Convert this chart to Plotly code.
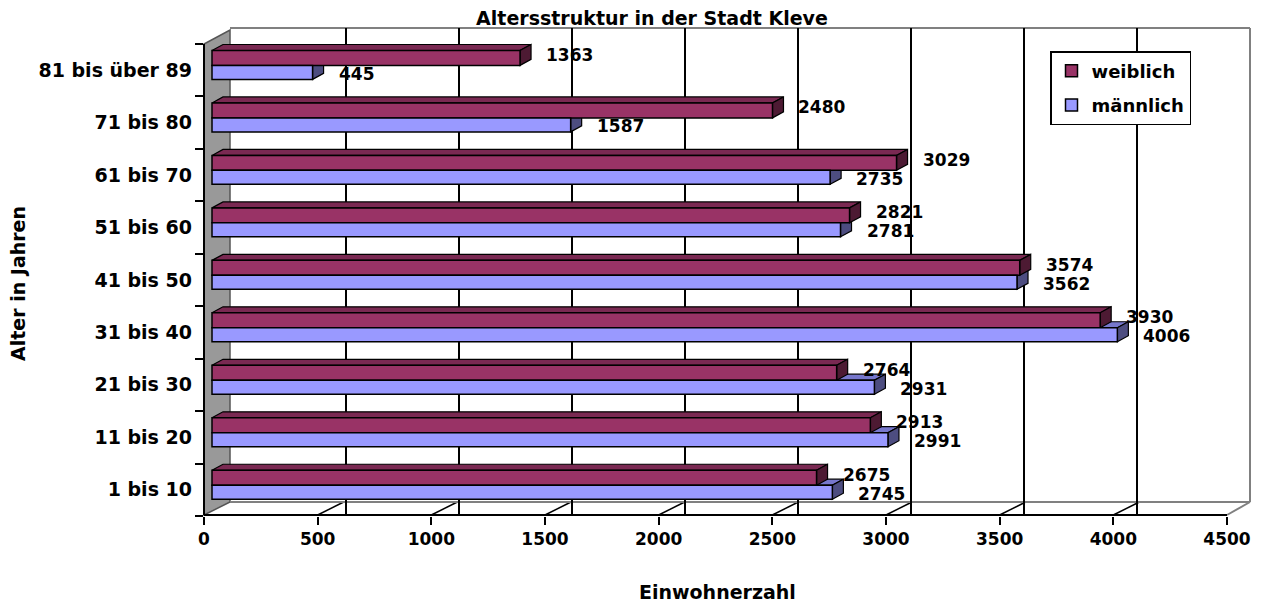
import plotly.graph_objects as go

# Altersgruppen (von unten nach oben)
altersgruppen = ["1 bis 10", "11 bis 20", "21 bis 30", "31 bis 40", "41 bis 50",
                 "51 bis 60", "61 bis 70", "71 bis 80", "81 bis über 89"]
weiblich = [2675, 2913, 2764, 3930, 3574, 2821, 3029, 2480, 1363]
maennlich = [2745, 2991, 2931, 4006, 3562, 2781, 2735, 1587, 445]
x_ticks = [0, 500, 1000, 1500, 2000, 2500, 3000, 3500, 4000, 4500]
grid_ticks = [500, 1000, 1500, 2000, 2500, 3000, 3500, 4000]

FONT = "DejaVu Sans, Liberation Sans, Arial"
OFF = 8                      # body margin of the page
W, H = 1270, 605
L, T = 204 - OFF, 28 - OFF   # plot area (screen pixels 204..1250, 28..516)
R = W - (1250 - OFF)
B = H - (516 - OFF)
PW, PH = W - L - R, H - T - B
SCALE = 0.226                # px per inhabitant on the bar plane
XMIN = -8 / SCALE            # bars start 8 px right of the front corner
XMAX = XMIN + PW / SCALE
DX = 11 / SCALE              # 3D depth of the bars (11 px right, 6 px up)
DY = 6

# bar bands in pixels relative to the category centre (positive = up)
W_BOT, W_TOP = 4.6, 19.5
M_BOT, M_TOP = -9.4, 4.6


def px(x, y):
    # screen pixel -> paper coordinates
    return (x - OFF - L) / PW, (H - B - (y - OFF)) / PH


fig = go.Figure()
fig.add_trace(go.Bar(y=altersgruppen, x=weiblich, orientation="h", name="<b>weiblich</b>",
                     legendgroup="w", offset=0.087, width=0.285,
                     marker=dict(color="#993366", line=dict(color="black", width=1.5))))
fig.add_trace(go.Bar(y=altersgruppen, x=maennlich, orientation="h", name="<b>männlich</b>",
                     legendgroup="m", offset=-0.18, width=0.267,
                     marker=dict(color="#9999FF", line=dict(color="black", width=1.5))))
# leere Spuren, damit die versetzten Achsen gezeichnet werden
fig.add_trace(go.Scatter(x=[None], y=[None], xaxis="x2", showlegend=False, hoverinfo="skip"))
fig.add_trace(go.Scatter(x=[None], y=[None], xaxis="x3", showlegend=False, hoverinfo="skip"))

# Boden (verdeckt die Gitterlinien vor der Rückwand)
floor = [px(204, 515), px(230, 502), px(1250, 502), px(1227, 515)]
fig.add_shape(type="path", xref="paper", yref="paper", layer="between",
              path="M " + " L ".join(f"{x},{y}" for x, y in floor) + " Z",
              fillcolor="white", line=dict(width=0))
# Bodenlinien von den Achsenstrichen nach hinten
for t in grid_ticks:
    fig.add_shape(type="path", xref="x3", xsizemode="pixel", xanchor=t,
                  yref="paper", ysizemode="pixel", yanchor=0,
                  path="M 0,1 L 26,14", layer="between", line=dict(color="black", width=1.5))


def faces(cat, v, bot, top, c_top, c_end):
    # Ober- und Stirnseite eines 3D-Balkens
    top_path = f"M 0,{top} L {v},{top} L {v + DX},{top + DY} L {DX},{top + DY} Z"
    end_path = f"M {v},{bot} L {v + DX},{bot + DY} L {v + DX},{top + DY} L {v},{top} Z"
    for p, c in ((top_path, c_top), (end_path, c_end)):
        fig.add_shape(type="path", xref="x", yref="y", ysizemode="pixel", yanchor=cat,
                      path=p, layer="between", fillcolor=c, line=dict(color="black", width=1.2))


for cat, m in zip(altersgruppen, maennlich):
    faces(cat, m, M_BOT, M_TOP, "#7777cc", "#4d4d80")
for cat, w in zip(altersgruppen, weiblich):
    faces(cat, w, W_BOT, W_TOP, "#7a2952", "#4d1a33")

# Datenbeschriftungen
for cat, w, m in zip(altersgruppen, weiblich, maennlich):
    fig.add_annotation(x=w, y=cat, text=f"<b>{w}</b>", showarrow=False, xanchor="left",
                       xshift=24, yshift=15, font=dict(family=FONT, size=17, color="black"))
    fig.add_annotation(x=m, y=cat, text=f"<b>{m}</b>", showarrow=False, xanchor="left",
                       xshift=24, yshift=-4, font=dict(family=FONT, size=17, color="black"))

# Achsentitel
ax, ay = px(717, 592)
fig.add_annotation(xref="paper", yref="paper", x=ax, y=ay, text="<b>Einwohnerzahl</b>",
                   xanchor="center", yanchor="middle",
                   showarrow=False, font=dict(family=FONT, size=19, color="black"))
ax, ay = px(18, 284)
fig.add_annotation(xref="paper", yref="paper", x=ax, y=ay, text="<b>Alter in Jahren</b>",
                   xanchor="center", yanchor="middle",
                   textangle=-90, showarrow=False, font=dict(family=FONT, size=19, color="black"))

fig.update_layout(
    width=W, height=H,
    margin=dict(l=L, r=R, t=T, b=B, autoexpand=False),
    paper_bgcolor="white", plot_bgcolor="white",
    barmode="group",
    font=dict(family=FONT, size=17, color="black"),
    title=dict(text="<b>Altersstruktur in der Stadt Kleve</b>", x=(652 - OFF) / W, xanchor="center",
               y=1 - (18 - OFF) / H, yanchor="middle", font=dict(size=19)),
    legend=dict(x=px(1050, 0)[0], y=px(0, 51)[1], xanchor="left", yanchor="top",
                traceorder="grouped", tracegroupgap=8,
                bordercolor="black", borderwidth=1.5, bgcolor="white",
                font=dict(size=18)),
    showlegend=True,
)
fig.update_xaxes(range=[XMIN, XMAX], showticklabels=False, ticks="",
                 showgrid=False, showline=False, zeroline=False, automargin=False)
# Gitterlinien der Rückwand (nach hinten versetzt) und vordere Achse
fig.update_layout(
    xaxis2=dict(overlaying="x", anchor="y", range=[-(233 - 204) / SCALE, (1250 - 233) / SCALE],
                tickvals=grid_ticks,
                showticklabels=False, showgrid=True, gridcolor="black", gridwidth=1.5,
                zeroline=False, showline=False, ticks="", automargin=False),
    xaxis3=dict(overlaying="x", anchor="y", side="bottom", range=[0, 4500 * PW / (1227 - 204)],
                tickvals=x_ticks, ticktext=[f"<b>{t}</b>" for t in x_ticks],
                showgrid=False, zeroline=False, showline=False, automargin=False,
                ticks="outside", ticklen=8, tickcolor="black", tickwidth=2),
)
fig.update_yaxes(range=[-0.5, 8.8], ticktext=[f"<b>{a}</b>" for a in altersgruppen],
                 tickvals=altersgruppen, tickfont=dict(size=19), automargin=False,
                 showline=False, showgrid=False, zeroline=False, ticklabelstandoff=11,
                 ticks="outside", tickson="boundaries", ticklen=8, tickcolor="black", tickwidth=2)

# 3D-Rahmen: linke Seitenwand und Kanten
wall = [px(204, 515), px(230, 502), px(230, 30), px(204, 44)]
fig.add_shape(type="path", xref="paper", yref="paper", layer="below",
              path="M " + " L ".join(f"{x},{y}" for x, y in wall) + " Z",
              fillcolor="#999999", line=dict(color="#555555", width=1.5))
for (x0, y0), (x1, y1), col in [
    ((230, 28), (1250, 28), "#808080"),
    ((1250, 28), (1250, 502), "#808080"),
    ((230, 502), (1250, 502), "#808080"),
    ((1250, 502), (1227, 515), "#808080"),
    ((204, 515), (1227, 515), "black"),
    ((204, 44), (204, 515), "black"),
]:
    a, b = px(x0, y0)
    c, d = px(x1, y1)
    fig.add_shape(type="line", xref="paper", yref="paper", x0=a, y0=b, x1=c, y1=d,
                  layer="between", line=dict(color=col, width=2))

fig.write_html("out.html")
